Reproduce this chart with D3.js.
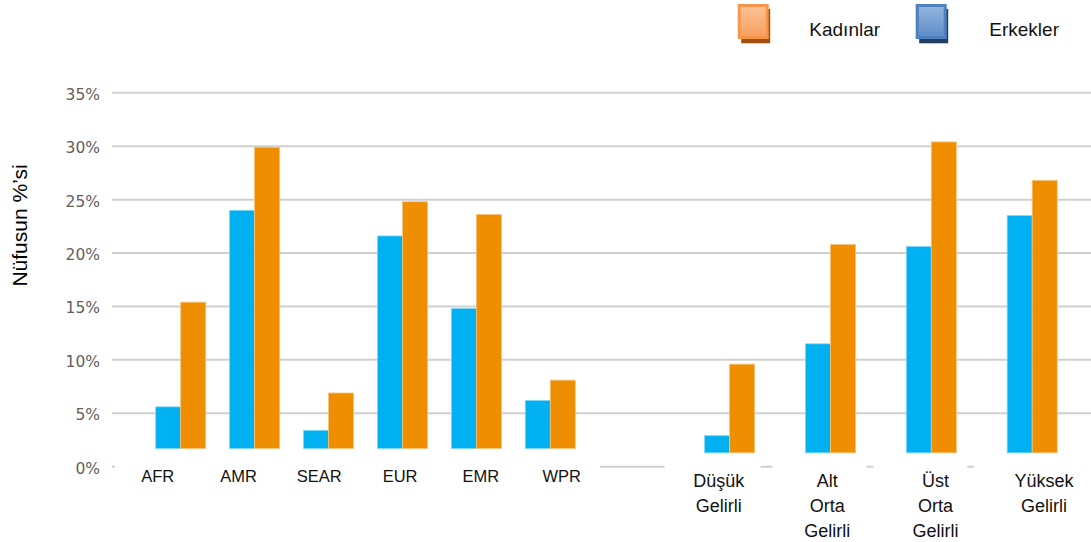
<!DOCTYPE html>
<html>
<head>
<meta charset="utf-8">
<script src="https://cdn.jsdelivr.net/npm/d3@7"></script>
<style>
  html, body { margin: 0; padding: 0; background: #fff; }
  svg { display: block; }
</style>
</head>
<body>
<svg id="chart" width="1091" height="542"></svg>
<script>
// ---- data ----
const regionCats = ["AFR", "AMR", "SEAR", "EUR", "EMR", "WPR"];
const regionMen = [5.6, 24.0, 3.4, 21.6, 14.8, 6.2];
const regionWomen = [15.4, 29.9, 6.9, 24.8, 23.6, 8.1];

const incomeCats = [["Düşük", "Gelirli"], ["Alt", "Orta", "Gelirli"], ["Üst", "Orta", "Gelirli"], ["Yüksek", "Gelirli"]];
const incomeMen = [2.9, 11.5, 20.6, 23.5];
const incomeWomen = [9.6, 20.8, 30.4, 26.8];

// bar bottoms of the two pasted panels (in % units)
const groupBaselines = [1.7, 1.3];

const yTicks = [0, 5, 10, 15, 20, 25, 30, 35];
const yTickLabels = ["0%", "5%", "10%", "15%", "20%", "25%", "30%", "35%"];

const legendLabels = ["Kadınlar", "Erkekler"];
const yTitle = "Nüfusun %’si";

// ---- layout ----
const svg = d3.select("#chart");
const colMen = "#00B0F0", colWomen = "#EE8E00";
const barW = 25;

const y = d3.scaleLinear().domain([0, 35]).range([466.7, 92.8]);
const gridX0 = 112, gridX1 = 1091;

// gridlines
svg.append("g").selectAll("line").data(yTicks).join("line")
  .attr("x1", gridX0).attr("x2", gridX1)
  .attr("y1", d => y(d)).attr("y2", d => y(d))
  .attr("stroke", "#d0d0d0").attr("stroke-width", 2);

// y tick labels
svg.append("g").selectAll("text").data(yTicks).join("text")
  .attr("x", 100).attr("y", d => y(d) + 7)
  .attr("text-anchor", "end")
  .attr("font-family", "DejaVu Sans, sans-serif")
  .attr("font-size", 15.5)
  .attr("fill", "#5f5f5f")
  .text((d, i) => yTickLabels[i]);

// y title
svg.append("text")
  .attr("transform", "translate(27,225.5) rotate(-90)")
  .attr("text-anchor", "middle")
  .attr("font-family", "Liberation Sans, Arial, sans-serif")
  .attr("font-size", 21)
  .attr("fill", "#000")
  .text(yTitle);

// scales for bars (boundary between the two bars) and labels
const xRegionBars = d3.scalePoint().domain(regionCats).range([180.7, 550.3]);
const xRegionLabels = d3.scalePoint().domain(regionCats).range([157.7, 561.7]);
const incomeKeys = incomeCats.map(d => d.join(" "));
const xIncomeBars = d3.scalePoint().domain(incomeKeys).range([729.6, 1032.2]);
const xIncomeLabels = d3.scalePoint().domain(incomeKeys).range([718.8, 1044]);

// white label boxes (cover the 0% gridline, as in the source)
const boxes = svg.append("g");
boxes.append("rect")
  .attr("x", 115).attr("y", 458).attr("width", 600 - 115).attr("height", 40)
  .attr("fill", "#fff");
boxes.selectAll("rect.ib").data(incomeKeys).join("rect").attr("class", "ib")
  .attr("x", (d, i) => xIncomeBars(d) - (i === 0 ? 65 : 58))
  .attr("y", 458)
  .attr("width", (d, i) => i === incomeKeys.length - 1 ? 200 : (i === 0 ? 96 : 94))
  .attr("height", 84).attr("fill", "#fff");

function drawBars(cats, xs, men, women, base) {
  const g = svg.append("g");
  g.selectAll("rect.m").data(cats).join("rect").attr("class", "m")
    .attr("x", d => xs(d) - barW)
    .attr("y", (d, i) => y(men[i]))
    .attr("width", barW)
    .attr("height", (d, i) => y(base) - y(men[i]))
    .attr("fill", colMen)
    .attr("stroke", "#7fd6f7").attr("stroke-width", 0.8);
  g.selectAll("rect.w").data(cats).join("rect").attr("class", "w")
    .attr("x", d => xs(d))
    .attr("y", (d, i) => y(women[i]))
    .attr("width", barW)
    .attr("height", (d, i) => y(base) - y(women[i]))
    .attr("fill", colWomen)
    .attr("stroke", "#f6c27a").attr("stroke-width", 0.8);
}
drawBars(regionCats, xRegionBars, regionMen, regionWomen, groupBaselines[0]);
drawBars(incomeKeys, xIncomeBars, incomeMen, incomeWomen, groupBaselines[1]);

// x labels - regions
svg.append("g").selectAll("text").data(regionCats).join("text")
  .attr("x", d => xRegionLabels(d)).attr("y", 481.7)
  .attr("text-anchor", "middle")
  .attr("font-family", "Liberation Sans, Arial, sans-serif")
  .attr("font-size", 16.5)
  .attr("fill", "#111")
  .text(d => d);

// x labels - income (multi-line)
const incLab = svg.append("g").selectAll("text").data(incomeCats).join("text")
  .attr("text-anchor", "middle")
  .attr("font-family", "Liberation Sans, Arial, sans-serif")
  .attr("font-size", 18)
  .attr("fill", "#111");
incLab.each(function(d, i) {
  const t = d3.select(this);
  const cx = xIncomeLabels(incomeKeys[i]);
  d.forEach((line, j) => {
    t.append("tspan").attr("x", cx).attr("y", 487.3 + j * 25).text(line);
  });
});

// legend
const defs = svg.append("defs");
const gO = defs.append("linearGradient").attr("id", "gO").attr("x1", 0).attr("y1", 0).attr("x2", 0).attr("y2", 1);
gO.append("stop").attr("offset", 0).attr("stop-color", "#FBC194");
gO.append("stop").attr("offset", 1).attr("stop-color", "#F7A060");
const gB = defs.append("linearGradient").attr("id", "gB").attr("x1", 0).attr("y1", 0).attr("x2", 0).attr("y2", 1);
gB.append("stop").attr("offset", 0).attr("stop-color", "#93B3DC");
gB.append("stop").attr("offset", 1).attr("stop-color", "#5F8ECA");

const legendItems = [
  { label: legendLabels[0], x: 737.7, tx: 809.3, shadow: "#A14F0E", outer: "#F7964A", grad: "url(#gO)" },
  { label: legendLabels[1], x: 915.7, tx: 989.3, shadow: "#243F61", outer: "#4F81BD", grad: "url(#gB)" }
];
const lg = svg.append("g").selectAll("g").data(legendItems).join("g");
lg.append("rect").attr("x", d => d.x + 3.5).attr("y", 9).attr("width", 29).attr("height", 34.3).attr("fill", d => d.shadow);
lg.append("rect").attr("x", d => d.x).attr("y", 4).attr("width", 31).attr("height", 35).attr("fill", d => d.outer);
lg.append("rect").attr("x", d => d.x + 3).attr("y", 7).attr("width", 25).attr("height", 29).attr("fill", d => d.grad);
lg.append("text").attr("x", d => d.tx).attr("y", 36)
  .attr("font-family", "Liberation Sans, Arial, sans-serif")
  .attr("font-size", 19).attr("fill", "#111")
  .text(d => d.label);
</script>
</body>
</html>
